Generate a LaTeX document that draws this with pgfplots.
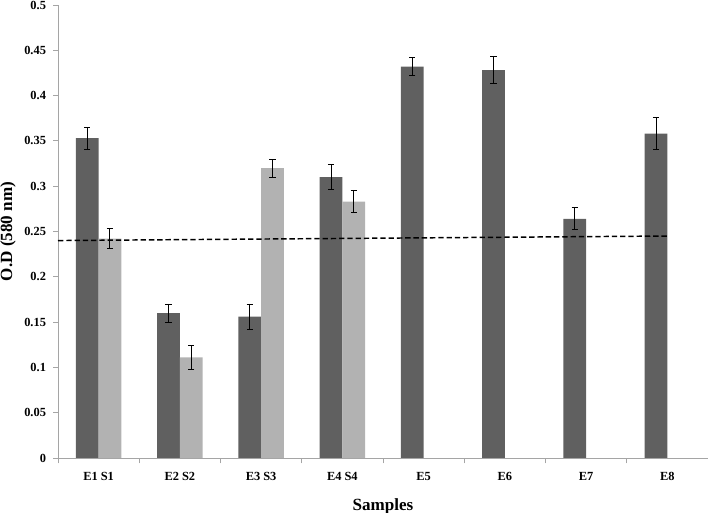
\documentclass[border=0pt]{standalone}
\usepackage{pgfplots}
\pgfplotsset{compat=1.18}
\usepackage{fontspec}
\setmainfont{Liberation Serif}
\definecolor{darkbar}{RGB}{96,96,96}
\definecolor{lightbar}{RGB}{178,178,178}
\definecolor{axisgray}{RGB}{165,165,165}
\begin{document}
\begin{tikzpicture}
\begin{axis}[
  at={(0,0)}, anchor=south west,
  scale only axis, width=487.5pt, height=339.75pt,
  xmin=-0.5, xmax=7.5, ymin=0, ymax=0.5,
  ybar=0pt, bar width=17pt,
  axis x line=bottom, axis y line=left,
  axis line style={axisgray, line width=0.6pt, -},
  xtick={0,1,2,3,4,5,6,7},
  xticklabels={E1 S1, E2 S2, E3 S3, E4 S4, E5, E6, E7, E8},
  minor xtick={-0.5,0.5,1.5,2.5,3.5,4.5,5.5,6.5,7.5},
  major x tick style={draw=none},
  minor x tick style={axisgray, line width=0.6pt},
  minor tick length=4pt,
  ytick={0,0.05,0.1,0.15,0.2,0.25,0.3,0.35,0.4,0.45,0.5},
  major y tick style={axisgray, line width=0.6pt},
  major tick length=3.5pt,
  tick align=outside,
  /pgf/number format/assume math mode=true,
  /pgf/number format/fixed,
  /pgf/number format/precision=2,
  tick label style={font=\bfseries\fontsize{9.3}{10}\selectfont, text=black},
  yticklabel style={xshift=-2pt},
  xticklabel style={yshift=-4pt},
  xlabel={Samples},
  xlabel style={font=\bfseries\fontsize{12.8}{14}\selectfont, yshift=-6pt},
  ylabel={O.D (580 nm)},
  ylabel style={font=\bfseries\fontsize{12.8}{15}\selectfont,
    at={(axis description cs:-0.077,0.5)}, anchor=center, rotate=0},
  error bars/error bar style={black, line width=0.7pt},
  error bars/error mark options={rotate=90, black, mark size=2.3pt, line width=0.7pt},
  clip=false,
]
\addplot[fill=darkbar, draw=none,
  error bars/.cd, y dir=both, y explicit]
  coordinates {
  (0,0.353) +- (0,0.012)
  (1,0.160) +- (0,0.010)
  (2,0.156) +- (0,0.014)
  (3,0.310) +- (0,0.0135)
  (4,0.432) +- (0,0.010)
  (5,0.428) +- (0,0.015)
  (6,0.264) +- (0,0.012)
  (7,0.358) +- (0,0.0175)
  };
\addplot[fill=lightbar, draw=none,
  error bars/.cd, y dir=both, y explicit]
  coordinates {
  (0,0.242) +- (0,0.011)
  (1,0.111) +- (0,0.013)
  (2,0.320) +- (0,0.010)
  (3,0.283) +- (0,0.0125)
  };
\addplot[sharp plot, black, line width=1.1pt, dash pattern=on 4pt off 2.2pt, mark=none]
  coordinates {(-0.5,0.240) (7,0.245)};
\end{axis}
\pgfresetboundingbox
\path[use as bounding box] (-43.5pt,-41.25pt) rectangle (487.5pt,343.5pt);
\end{tikzpicture}
\end{document}
